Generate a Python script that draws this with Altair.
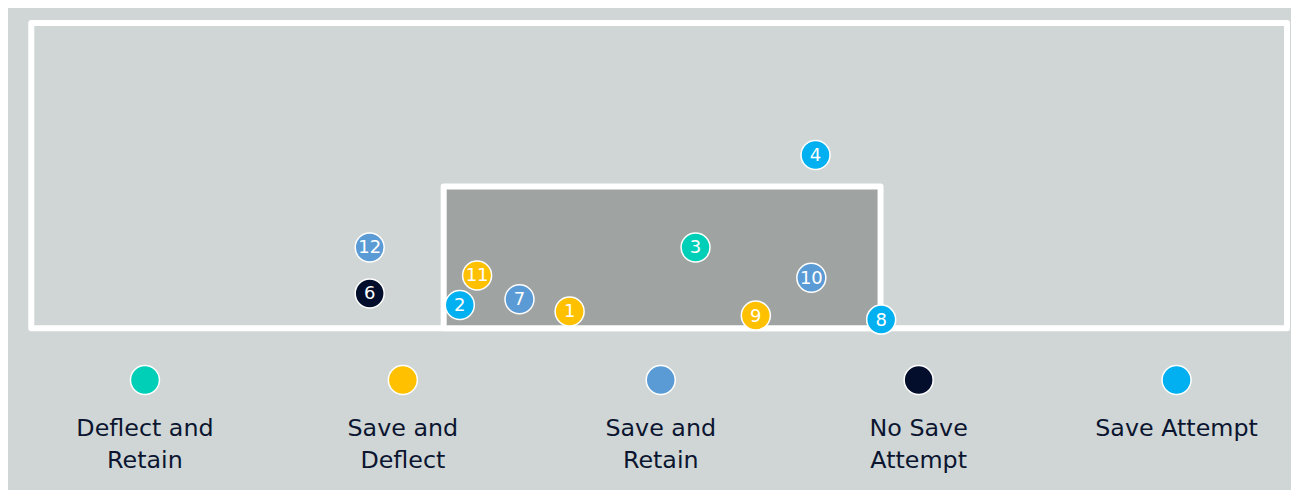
import altair as alt
import pandas as pd

# ---- shot data (goal-mouth coordinates, metres) ----
shot_ids = [1, 2, 3, 4, 6, 7, 8, 9, 10, 11, 12]
shot_x = [-1.55, -3.39, 0.56, 2.57, -4.90, -2.39, 3.67, 1.57, 2.50, -3.10, -4.90]
shot_y = [0.29, 0.40, 1.39, 2.98, 0.60, 0.50, 0.15, 0.22, 0.87, 0.91, 1.39]
shot_outcome = [
    "Save and Deflect", "Save Attempt", "Deflect and Retain", "Save Attempt",
    "No Save Attempt", "Save and Retain", "Save Attempt", "Save and Deflect",
    "Save and Retain", "Save and Deflect", "Save and Retain",
]

# ---- legend categories ----
outcomes = ["Deflect and Retain", "Save and Deflect", "Save and Retain",
            "No Save Attempt", "Save Attempt"]
outcome_labels = ["Deflect and\nRetain", "Save and\nDeflect", "Save and\nRetain",
                  "No Save\nAttempt", "Save Attempt"]
outcome_colors = ["#00cfb8", "#ffc000", "#5b9bd5", "#020e2b", "#00b0f0"]

# ---- pitch geometry ----
frame_x = [-10.57, 10.47]
frame_y = [0.0, 5.25]
goal_x = [-3.66, 3.66]
goal_y = [0.0, 2.44]

FONT = "DejaVu Sans"
BG = "#d0d6d6"

shots = pd.DataFrame({"id": [str(i) for i in shot_ids], "x": shot_x, "y": shot_y,
                      "outcome": shot_outcome})
frame_df = pd.DataFrame({"x": [frame_x[0]], "x2": [frame_x[1]],
                         "y": [frame_y[0]], "y2": [frame_y[1]]})
goal_df = pd.DataFrame({"x": [goal_x[0]], "x2": [goal_x[1]],
                        "y": [goal_y[0]], "y2": [goal_y[1]]})
leg_df = pd.DataFrame({"outcome": outcomes, "label": outcome_labels,
                       "pos": list(range(len(outcomes)))})

xs = alt.Scale(domain=[-10.65, 10.52], nice=False, zero=False)
ys = alt.Scale(domain=[-0.15, 5.35], nice=False, zero=False)
cs = alt.Scale(domain=outcomes, range=outcome_colors)

frame = alt.Chart(frame_df).mark_rect(
    color=BG, fillOpacity=0, stroke="white", strokeWidth=6, strokeJoin="round"
).encode(
    x=alt.X("x:Q", scale=xs, axis=None), x2="x2:Q",
    y=alt.Y("y:Q", scale=ys, axis=None), y2="y2:Q",
)
goal = alt.Chart(goal_df).mark_rect(
    color="#9fa3a1", stroke="white", strokeWidth=6, strokeJoin="round"
).encode(
    x=alt.X("x:Q", scale=xs, axis=None), x2="x2:Q",
    y=alt.Y("y:Q", scale=ys, axis=None), y2="y2:Q",
)
base = alt.Chart(shots).encode(
    x=alt.X("x:Q", scale=xs, axis=None),
    y=alt.Y("y:Q", scale=ys, axis=None),
)
dots = base.mark_circle(size=841, opacity=1, stroke="white", strokeWidth=1.5).encode(
    color=alt.Color("outcome:N", scale=cs, legend=None)
)
nums = base.mark_text(color="white", fontSize=18, font=FONT, baseline="middle",
                      align="center", dy=1).encode(text="id:N")

top = alt.layer(frame, goal, dots, nums).properties(width=1264, height=320)

lxs = alt.Scale(domain=[-0.4593, 4.4399], nice=False, zero=False)
lbase = alt.Chart(leg_df).encode(x=alt.X("pos:Q", scale=lxs, axis=None))
ldots = lbase.mark_circle(size=841, opacity=1, stroke="white", strokeWidth=1.5).encode(
    y=alt.value(42.0),
    color=alt.Color("outcome:N", scale=cs, legend=None),
)
ltext = lbase.mark_text(lineBreak="\n", fontSize=23.8, lineHeight=32.3,
                        baseline="alphabetic", align="center",
                        color="#0b1530", font=FONT).encode(
    y=alt.value(98.0), text="label:N"
)
legend = alt.layer(ldots, ltext).properties(width=1264, height=152)

chart = alt.vconcat(top, legend, spacing=0).properties(
    padding={"left": 18.5, "top": 9.1, "right": 0, "bottom": 0},
    background=BG,
).configure_view(stroke=None)

chart.save("out.html", embed_options={"renderer": "svg", "actions": False})
